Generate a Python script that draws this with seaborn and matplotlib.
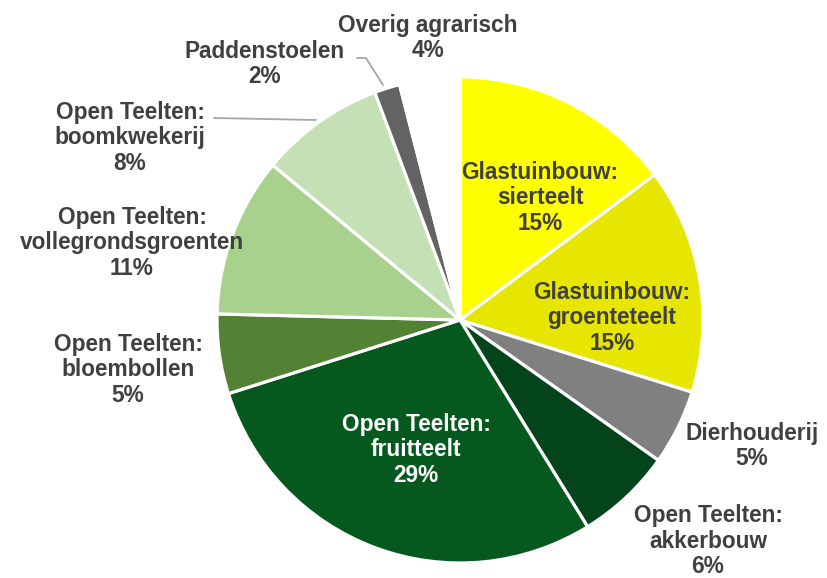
import matplotlib
matplotlib.use("Agg")
import matplotlib.pyplot as plt
import seaborn as sns

# sector shares (percent), clockwise from 12 o'clock
categories = ["Glastuinbouw:\nsierteelt", "Glastuinbouw:\ngroenteteelt", "Dierhouderij",
              "Open Teelten:\nakkerbouw", "Open Teelten:\nfruitteelt", "Open Teelten:\nbloembollen",
              "Open Teelten:\nvollegrondsgroenten", "Open Teelten:\nboomkwekerij",
              "Paddenstoelen", "Overig agrarisch"]
shares = [14.8, 15.0, 5.0, 6.4, 28.9, 5.3, 10.6, 8.3, 1.7, 4.0]
colors = ["#FFFF00", "#E6E600", "#808080", "#03441B", "#05581E", "#548235",
          "#A9D18E", "#C5E0B4", "#636363", "#FFFFFF"]

sns.set_theme(style="white")
plt.rcParams['font.family'] = ['Liberation Sans', 'DejaVu Sans']

fig = plt.figure(figsize=(8.28, 5.78), dpi=100)
ax = fig.add_axes([0, 0, 1, 1])

ax.pie(shares, colors=colors, startangle=90, counterclock=False,
       center=(460, 258), radius=243,
       wedgeprops={"edgecolor": "white", "linewidth": 2.3})

# pie() resets the limits, so set them afterwards (pixel space, y up)
ax.set_xlim(0, 828)
ax.set_ylim(0, 578)
ax.set_aspect("equal")
ax.axis("off")

# label layout (pixel coords, y up), text colour
label_pos = [(540, 380, "#404040"), (612, 260, "#404040"), (752, 132, "#404040"),
             (708, 37, "#404040"), (416, 128, "white"), (128, 208, "#404040"),
             (132, 335, "#404040"), (130, 440, "#404040"), (265, 514, "#404040"),
             (428, 540, "#404040")]

for name, val, (x, y, c) in zip(categories, shares, label_pos):
    ax.text(x, y, f"{name}\n{round(val):.0f}%", ha="center", va="center",
            fontsize=16.3, fontweight="bold", color=c, linespacing=1.12)

# leader lines
ax.plot([357, 366, 383], [520, 520, 493], color="#A6A6A6", lw=1.3)
ax.plot([214, 316], [460, 458], color="#A6A6A6", lw=1.3)

fig.savefig("out.png", dpi=100)
